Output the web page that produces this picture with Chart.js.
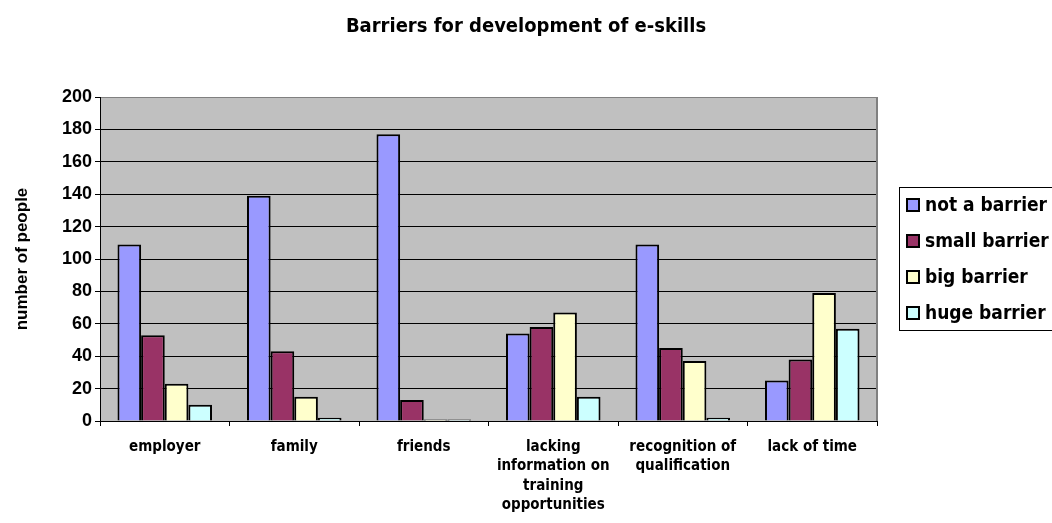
<!DOCTYPE html>
<html>
<head>
<meta charset="utf-8">
<script src="https://cdn.jsdelivr.net/npm/chart.js@4/dist/chart.umd.min.js"></script>
<style>
  html, body { margin: 0; padding: 0; background: #ffffff; overflow: hidden; }
  #wrap { width: 1052px; height: 523px; }
</style>
</head>
<body>
<div id="wrap"><canvas id="c" width="1052" height="523"></canvas></div>
<script>
const chartTitle = 'Barriers for development of e-skills';
const yAxisTitle = 'number of people';
const categories = [
  'employer',
  'family',
  'friends',
  ['lacking', 'information on', 'training', 'opportunities'],
  ['recognition of', 'qualification'],
  'lack of time'
];
const seriesNames = ['not a barrier', 'small barrier', 'big barrier', 'huge barrier'];
const notABarrier = [109, 139, 177, 54, 109, 25];
const smallBarrier = [53, 43, 13, 58, 45, 38];
const bigBarrier = [23, 15, 1, 67, 37, 79];
const hugeBarrier = [10, 2, 1, 15, 2, 57];
const seriesColors = ['#9999FF', '#993366', '#FFFFCC', '#CCFFFF'];
const yTicks = { min: 0, max: 200, step: 20 };

const seriesValues = [notABarrier, smallBarrier, bigBarrier, hugeBarrier];

const COND = '"DejaVu Sans Condensed", "DejaVu Sans", sans-serif';
const ARIAL = '"Liberation Sans", Arial, sans-serif';

const plotBg = {
  id: 'plotBg',
  beforeDraw(chart) {
    const { ctx, chartArea: a } = chart;
    ctx.save();
    ctx.fillStyle = '#C0C0C0';
    ctx.fillRect(a.left, a.top, a.right - a.left, a.bottom - a.top);
    ctx.restore();
  },
  beforeDatasetsDraw(chart) {
    const { ctx, chartArea: a } = chart;
    ctx.save();
    ctx.strokeStyle = '#808080';
    ctx.lineWidth = 2;
    ctx.beginPath();
    ctx.moveTo(a.right, a.top);
    ctx.lineTo(a.right, a.bottom);
    ctx.stroke();
    ctx.restore();
  }
};

const boxLegend = {
  id: 'boxLegend',
  afterDraw(chart) {
    const { ctx } = chart;
    const x0 = 899, y0 = 187, w = 200, h = 143;
    ctx.save();
    ctx.fillStyle = '#ffffff';
    ctx.fillRect(x0, y0, w, h);
    ctx.strokeStyle = '#000000';
    ctx.lineWidth = 1;
    ctx.strokeRect(x0 + 0.5, y0 + 0.5, w, h);
    ctx.font = 'bold 19px ' + COND;
    ctx.textBaseline = 'middle';
    chart.data.datasets.forEach((ds, i) => {
      const cy = 205 + i * 36;
      ctx.fillStyle = ds.backgroundColor;
      ctx.fillRect(907, cy - 6, 12, 12);
      ctx.strokeStyle = '#000';
      ctx.lineWidth = 2;
      ctx.strokeRect(907, cy - 6, 12, 12);
      ctx.fillStyle = '#000';
      ctx.fillText(ds.label, 925, cy + 1);
    });
    ctx.restore();
  }
};

new Chart(document.getElementById('c'), {
  type: 'bar',
  data: {
    labels: categories,
    datasets: seriesNames.map((name, i) => ({
      label: name,
      data: seriesValues[i],
      backgroundColor: seriesColors[i],
      borderColor: '#000000',
      borderWidth: 2,
      categoryPercentage: 0.73,
      barPercentage: 1.0
    }))
  },
  options: {
    responsive: false,
    devicePixelRatio: 1,
    animation: false,
    layout: { padding: 0 },
    plugins: {
      legend: { display: false },
      tooltip: { enabled: false },
      title: {
        display: true,
        text: chartTitle,
        color: '#000',
        font: { family: COND, size: 20, weight: 'bold', lineHeight: 1.2 },
        padding: { top: 15, bottom: 58 }
      }
    },
    scales: {
      x: {
        offset: true,
        grid: { display: true, drawOnChartArea: false, drawTicks: true, tickLength: 5, tickColor: '#000', offset: true },
        border: { display: true, color: '#000', width: 1 },
        ticks: { color: '#000', font: { family: COND, size: 15, weight: 'bold', lineHeight: 1.3 }, padding: 11, maxRotation: 0, autoSkip: false },
        afterFit(scale) { scale.height = 102; }
      },
      y: {
        min: yTicks.min,
        max: yTicks.max,
        grid: {
          color: (c) => (c.tick && c.tick.value === yTicks.max ? '#808080' : '#000'),
          lineWidth: 1,
          tickLength: 5,
          tickColor: '#000',
          drawTicks: true
        },
        border: { display: true, color: '#000', width: 1 },
        ticks: { stepSize: yTicks.step, color: '#000', font: { family: ARIAL, size: 18, weight: 'bold' }, padding: 3 },
        title: {
          display: true,
          text: yAxisTitle,
          color: '#000',
          font: { family: ARIAL, size: 17, weight: 'bold', lineHeight: 1.2 },
          padding: { top: 12, bottom: 0 }
        },
        afterFit(scale) { scale.width = 100; }
      },
      yRight: {
        position: 'right',
        display: true,
        grid: { display: false, drawTicks: false },
        border: { display: false },
        ticks: { display: false },
        afterFit(scale) { scale.width = 175; }
      }
    }
  },
  plugins: [plotBg, boxLegend]
});
</script>
</body>
</html>
